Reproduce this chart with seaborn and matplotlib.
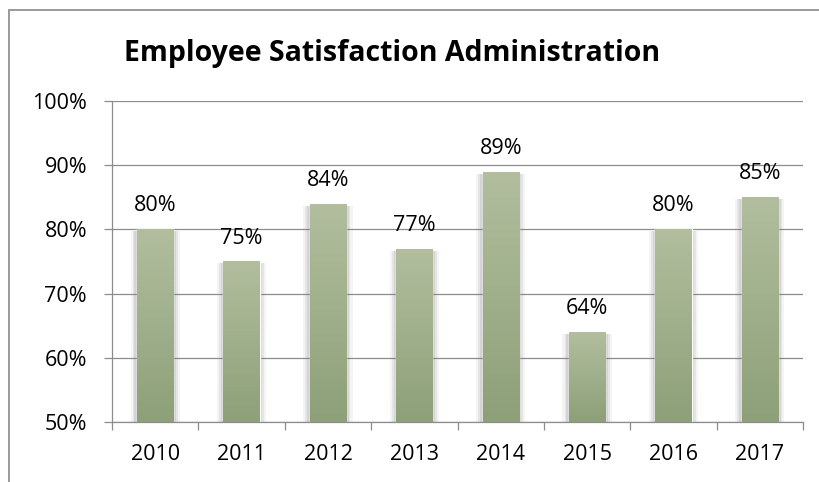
import numpy as np
import pandas as pd
import seaborn as sns
from matplotlib import pyplot as plt
from matplotlib.lines import Line2D
from matplotlib.patches import Rectangle
from matplotlib.colors import LinearSegmentedColormap

years = ["2010", "2011", "2012", "2013", "2014", "2015", "2016", "2017"]
satisfaction = [80, 75, 84, 77, 89, 64, 80, 85]
y_ticks = [50, 60, 70, 80, 90, 100]

df = pd.DataFrame({"year": years, "pct": satisfaction})

sns.set_style("white")
plt.rcParams["font.family"] = ["Open Sans", "DejaVu Sans"]
plt.rcParams["text.color"] = "black"

fig = plt.figure(figsize=(8.2, 4.82), dpi=100)
ax = fig.add_axes([0.1366, 0.1245, 0.8427, 0.666])

sns.barplot(data=df, x="year", y="pct", ax=ax, color="#a3b38c",
            width=0.42, saturation=1, zorder=3)

# gradient fill + soft shadow for each bar
green = LinearSegmentedColormap.from_list("g", ["#b2be9e", "#8da079"])
grad = np.linspace(0, 1, 256).reshape(-1, 1)
for bar in list(ax.patches):
    x0, w, h = bar.get_x(), bar.get_width(), bar.get_height()
    for k, a in [(0.075, 0.08), (0.05, 0.12), (0.03, 0.16)]:
        ax.add_patch(Rectangle((x0 - k, 50), w + k * 2, h - 50 - 0.3,
                               color="#7f7f7f", alpha=a, lw=0, zorder=2))
    img = ax.imshow(grad, cmap=green, aspect="auto", zorder=4,
                    extent=(x0, x0 + w, 50, h))
    img.set_clip_path(bar)
ax.set_xlim(-0.5, len(years) - 0.5)
ax.set_ylim(50, 100)

for i, v in enumerate(satisfaction):
    ax.text(i, v + 2.8, f"{v}%", ha="center", va="baseline", fontsize=15.5,
            color="black", zorder=6)

ax.set_yticks(y_ticks)
ax.set_yticklabels([f"{t}%" for t in y_ticks])
ax.yaxis.grid(True, color="#8c8c8c", lw=0.9)
ax.set_axisbelow(True)

ax.set_xticks(np.arange(len(years) + 1) - 0.5)
ax.set_xticklabels([])
ax.set_xticks(np.arange(len(years)), minor=True)
ax.set_xticklabels(years, minor=True)
ax.tick_params(axis="x", which="major", length=6, width=0.9, color="#8c8c8c",
               bottom=True, direction="out")
ax.tick_params(axis="x", which="minor", length=0, pad=16, labelsize=15.5,
               labelcolor="black")
ax.tick_params(axis="y", length=6, width=0.9, color="#8c8c8c", left=True,
               direction="out", pad=12, labelsize=15.5, labelcolor="black")
ax.set_xlabel("")
ax.set_ylabel("")

for side in ["top", "right"]:
    ax.spines[side].set_visible(False)
for side in ["left", "bottom"]:
    ax.spines[side].set_color("#8c8c8c")
    ax.spines[side].set_linewidth(0.9)

fig.text(0.4787, 0.874, "Employee Satisfaction Administration",
         ha="center", va="baseline", fontsize=20.5, fontweight="bold",
         color="black")

# outer chart frame (cut off on right and bottom)
fig.add_artist(Line2D([0.0115, 0.0115], [0, 0.979], color="#9a9a9a", lw=1.4))
fig.add_artist(Line2D([0.0115, 1.0], [0.979, 0.979], color="#9a9a9a", lw=1.4))

fig.savefig("out.png", dpi=100)
